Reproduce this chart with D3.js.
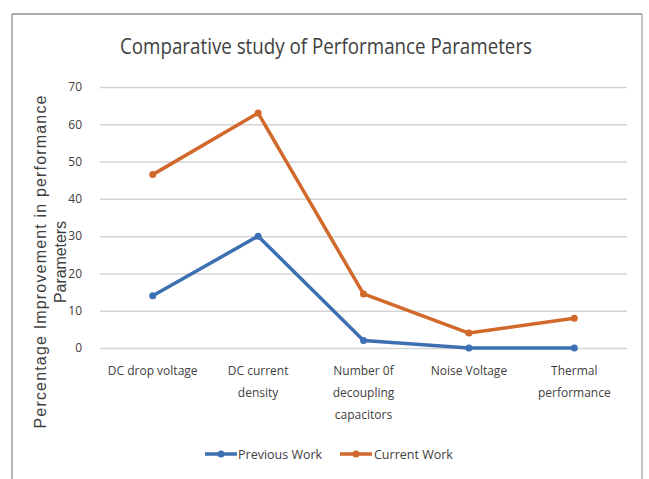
<!DOCTYPE html>
<html>
<head>
<meta charset="utf-8">
<script src="https://cdn.jsdelivr.net/npm/d3@7/dist/d3.min.js"></script>
<style>
  html, body { margin: 0; padding: 0; background: #fff; }
  svg { display: block; }
  text { font-family: "Open Sans", "Liberation Sans", sans-serif; fill: #404040; }
</style>
</head>
<body>
<svg id="chart" width="649" height="479"></svg>
<script>
// Performance parameters compared between two design approaches
const categories = [
  ["DC drop voltage"],
  ["DC current", "density"],
  ["Number 0f", "decoupling", "capacitors"],
  ["Noise Voltage"],
  ["Thermal", "performance"]
];
const previousWork = [14, 30, 2, 0, 0];
const currentWork = [46.5, 63, 14.5, 4, 8];
const yTicks = [0, 10, 20, 30, 40, 50, 60, 70];
const seriesNames = ["Previous Work", "Current Work"];
const seriesColors = ["#3d70b2", "#d2692c"];

const svg = d3.select("#chart");
const W = 649, H = 479;
const plot = { left: 100, right: 627, top: 87, bottom: 348 };
const labelFont = "'Open Sans', sans-serif";

// Outer frame: top edge and side borders
svg.append("line").attr("x1", 12).attr("x2", 642).attr("y1", 14).attr("y2", 14)
  .attr("stroke", "#8f8f8f").attr("stroke-width", 1.5);
svg.append("line").attr("x1", 12).attr("x2", 12).attr("y1", 14).attr("y2", H)
  .attr("stroke", "#9a9aa6").attr("stroke-width", 1.5);
svg.append("line").attr("x1", 642).attr("x2", 642).attr("y1", 14).attr("y2", H)
  .attr("stroke", "#b0b0b0").attr("stroke-width", 1.5);

const x = d3.scaleBand()
  .domain(d3.range(categories.length))
  .range([plot.left, plot.right])
  .padding(0);
const y = d3.scaleLinear().domain([0, 70]).range([plot.bottom, plot.top]);
const cx = i => x(i) + x.bandwidth() / 2;

// Horizontal gridlines with value labels
const yAxis = d3.axisLeft(y).tickValues(yTicks)
  .tickSize(-(plot.right - plot.left)).tickPadding(18);
const gy = svg.append("g").attr("transform", `translate(${plot.left},0)`).call(yAxis);
gy.select(".domain").remove();
gy.selectAll(".tick line").attr("stroke", "#d4d4d4").attr("stroke-width", 1.5);
gy.selectAll(".tick text")
  .attr("fill", "#404040")
  .style("font-family", labelFont)
  .style("font-size", "12px");

// Category labels, wrapped onto several lines
const xLab = svg.append("g");
categories.forEach((lines, i) => {
  const t = xLab.append("text")
    .attr("x", cx(i)).attr("y", 375)
    .attr("text-anchor", "middle")
    .style("font-family", labelFont)
    .style("font-size", "12px");
  lines.forEach((ln, k) => {
    t.append("tspan").attr("x", cx(i)).attr("dy", k === 0 ? 0 : 22).text(ln);
  });
});

// Chart title
svg.append("text")
  .attr("x", 326).attr("y", 54)
  .attr("text-anchor", "middle")
  .attr("textLength", 412)
  .attr("lengthAdjust", "spacingAndGlyphs")
  .style("font-family", labelFont)
  .style("font-size", "21px")
  .attr("fill", "#333")
  .text("Comparative study of Performance Parameters");

// Vertical axis title (two lines)
const yt = svg.append("text")
  .attr("transform", "translate(40,262) rotate(-90)")
  .attr("text-anchor", "middle")
  .style("font-family", "'Liberation Sans', sans-serif")
  .style("font-size", "16px")
  .attr("fill", "#404040");
yt.append("tspan").attr("x", 0).attr("dy", 6)
  .attr("textLength", 333).attr("lengthAdjust", "spacing")
  .text("Percentage Improvement in performance");
yt.append("tspan").attr("x", 0).attr("dy", 20)
  .attr("textLength", 82).attr("lengthAdjust", "spacing")
  .text("Parameters");

// Series lines and markers
const line = d3.line().x((d, i) => cx(i)).y(d => y(d));
[previousWork, currentWork].forEach((vals, s) => {
  svg.append("path").datum(vals)
    .attr("d", line)
    .attr("fill", "none")
    .attr("stroke", seriesColors[s])
    .attr("stroke-width", 3.5)
    .attr("stroke-linejoin", "round");
  svg.selectAll(null).data(vals).enter().append("circle")
    .attr("cx", (d, i) => cx(i)).attr("cy", d => y(d))
    .attr("r", 3.5)
    .attr("fill", seriesColors[s]);
});

// Legend
const legend = [
  { x0: 205, tx: 238 },
  { x0: 340, tx: 374 }
];
legend.forEach((L, s) => {
  const g = svg.append("g");
  g.append("line").attr("x1", L.x0).attr("x2", L.x0 + 32).attr("y1", 454).attr("y2", 454)
    .attr("stroke", seriesColors[s]).attr("stroke-width", 3.5);
  g.append("circle").attr("cx", L.x0 + 16).attr("cy", 454).attr("r", 3.5).attr("fill", seriesColors[s]);
  g.append("text").attr("x", L.tx).attr("y", 459)
    .style("font-family", labelFont)
    .style("font-size", "12.5px")
    .text(seriesNames[s]);
});
</script>
</body>
</html>
